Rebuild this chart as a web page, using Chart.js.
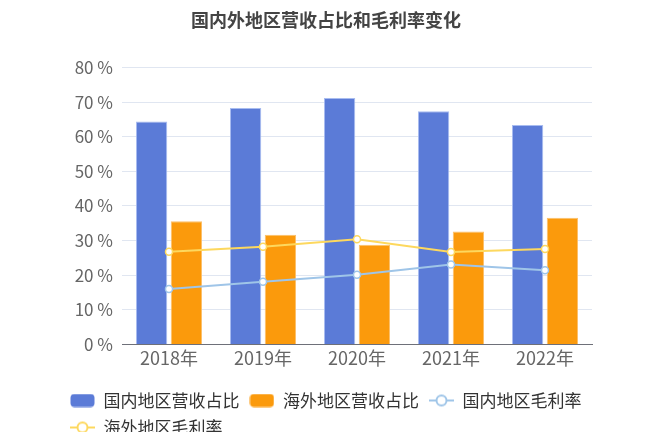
<!DOCTYPE html>
<html lang="zh">
<head>
<meta charset="UTF-8">
<title>国内外地区营收占比和毛利率变化</title>
<style>
  html,body{margin:0;padding:0;background:#fff;overflow:hidden;}
  #wrap{width:648px;height:446px;position:relative;}
</style>
<script src="https://cdn.jsdelivr.net/npm/chart.js"></script>
</head>
<body>
<div id="wrap"><canvas id="c"></canvas></div>
<script>
// 数据
const years = ['2018年', '2019年', '2020年', '2021年', '2022年'];
const domesticShare = [64.4, 68.3, 71.2, 67.4, 63.4];
const overseasShare = [35.6, 31.7, 28.8, 32.6, 36.6];
const domesticMargin = [16.0, 18.1, 20.1, 23.1, 21.4];
const overseasMargin = [26.8, 28.2, 30.4, 26.7, 27.6];
const yTicks = [0, 10, 20, 30, 40, 50, 60, 70, 80];

const FONT = '"Noto Sans CJK SC", "Noto Sans", sans-serif';
const BLUE = '#5b7bd7', ORANGE = '#fb9a0c', LBLUE = '#9fc5e8', YELLOW = '#fdd85e';

// 图例图标
function boxIcon(color) {
  const c = document.createElement('canvas');
  c.width = 25; c.height = 14;
  const g = c.getContext('2d');
  g.fillStyle = color;
  g.beginPath();
  g.roundRect(0.5, 0.5, 24, 13, 4);
  g.fill();
  return c;
}
function lineIcon(color) {
  const c = document.createElement('canvas');
  c.width = 25; c.height = 14;
  const g = c.getContext('2d');
  g.strokeStyle = color; g.lineWidth = 2;
  g.beginPath(); g.moveTo(0, 7); g.lineTo(25, 7); g.stroke();
  g.fillStyle = '#fff';
  g.beginPath(); g.arc(12.5, 7, 5, 0, Math.PI * 2); g.fill(); g.stroke();
  return c;
}
const icons = [boxIcon(BLUE), boxIcon(ORANGE), lineIcon(LBLUE), lineIcon(YELLOW)];

new Chart(document.getElementById('c'), {
  type: 'bar',
  data: {
    labels: years,
    datasets: [
      {label: '国内地区营收占比', data: domesticShare, backgroundColor: BLUE, borderColor: '#a8bcf0', borderWidth: 1, order: 1,
       categoryPercentage: 0.74, barPercentage: 0.9},
      {label: '海外地区营收占比', data: overseasShare, backgroundColor: ORANGE, borderColor: '#fcc06a', borderWidth: 1, order: 1,
       categoryPercentage: 0.74, barPercentage: 0.9},
      {type: 'line', label: '国内地区毛利率', data: domesticMargin, borderColor: LBLUE, borderWidth: 2,
       pointRadius: 3.5, pointBorderWidth: 1.5, pointBackgroundColor: '#fff', pointBorderColor: LBLUE, order: 0},
      {type: 'line', label: '海外地区毛利率', data: overseasMargin, borderColor: YELLOW, borderWidth: 2,
       pointRadius: 3.5, pointBorderWidth: 1.5, pointBackgroundColor: '#fff', pointBorderColor: YELLOW, order: 0}
    ]
  },
  options: {
    responsive: true,
    maintainAspectRatio: false,
    animation: false,
    layout: {padding: {left: 60, right: 56, top: 6, bottom: 0}},
    scales: {
      x: {
        grid: {display: false, drawTicks: false},
        border: {color: '#6e7079'},
        afterFit: s => { s.height += 10; },
        ticks: {color: '#666', font: {family: FONT, size: 18}, padding: 3}
      },
      y: {
        min: 0, max: 80,
        afterBuildTicks: s => { s.ticks = yTicks.map(v => ({value: v})); },
        afterFit: s => { s.width = 62; },
        grid: {color: '#e0e6f1', drawTicks: false},
        border: {display: false},
        ticks: {color: '#666', font: {family: FONT, size: 17}, padding: 9, callback: v => v + ' %'}
      }
    },
    plugins: {
      title: {
        display: true, text: '国内外地区营收占比和毛利率变化',
        color: '#444', font: {family: FONT, size: 18, weight: 'bold'},
        padding: {top: 3, bottom: 37}
      },
      legend: {
        position: 'bottom', align: 'start',
        labels: {
          color: '#333', font: {family: FONT, size: 17},
          usePointStyle: true, pointStyleWidth: 25, boxHeight: 14, padding: 10,
          sort: (a, b) => a.datasetIndex - b.datasetIndex,
          generateLabels: chart => Chart.defaults.plugins.legend.labels.generateLabels(chart)
            .map(it => Object.assign(it, {pointStyle: icons[it.datasetIndex]}))
        }
      },
      tooltip: {enabled: false}
    }
  }
});
</script>
</body>
</html>
